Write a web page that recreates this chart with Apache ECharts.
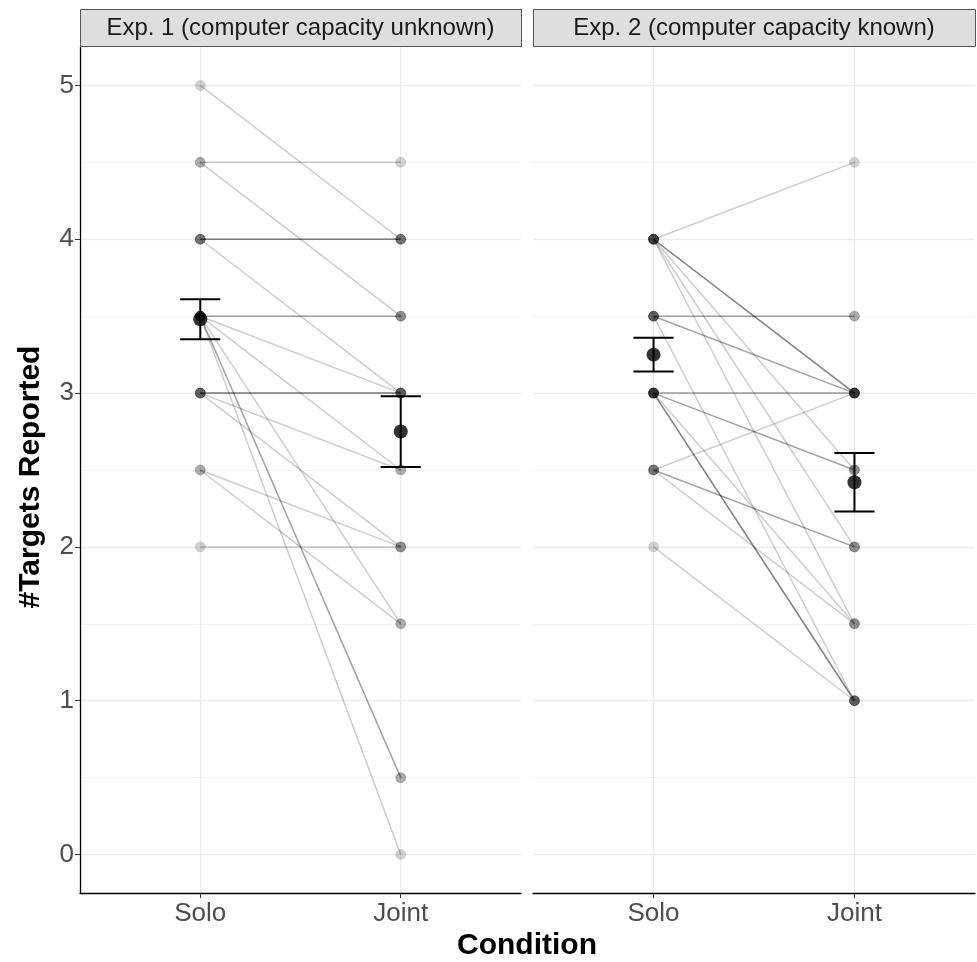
<!DOCTYPE html>
<html>
<head>
<meta charset="utf-8">
<script src="https://cdn.jsdelivr.net/npm/echarts@6/dist/echarts.min.js"></script>
<style>html,body{margin:0;padding:0;background:#fff}#c{width:977px;height:962px}</style>
</head>
<body>
<div id="c"></div>
<script>
// ---- data ----
const conditions = ['Solo', 'Joint'];
const panelTitles = ['Exp. 1 (computer capacity unknown)', 'Exp. 2 (computer capacity known)'];
const yTicks = [0, 1, 2, 3, 4, 5];
const yMinor = [0.5, 1.5, 2.5, 3.5, 4.5];

// individual participants (Solo value, Joint value)
const exp1Solo  = [5, 4.5, 4.5, 4, 4, 4, 4, 3.5, 3.5, 3.5, 3.5, 3.5, 3.5, 3.5, 3.5, 3, 3, 3, 3, 3, 2.5, 2.5, 2];
const exp1Joint = [4, 4.5, 3.5, 4, 4, 4, 3, 3.5, 3.5, 3, 2.5, 1.5, 0.5, 0.5, 0, 3, 3, 3, 2.5, 2, 2, 1.5, 2];
const exp2Solo  = [4, 4, 4, 4, 4, 4, 4, 3.5, 3.5, 3.5, 3.5, 3.5, 3, 3, 3, 3, 3, 3, 3, 3, 2.5, 2.5, 2.5, 2.5, 2];
const exp2Joint = [4.5, 3, 3, 3, 2.5, 2, 1.5, 3.5, 3.5, 3, 3, 1, 3, 3, 2.5, 2.5, 1, 1, 1, 1.5, 3, 2, 2, 1.5, 1];

// means and error bars [Solo, Joint]
const exp1Mean = [3.48, 2.75];
const exp1Lo   = [3.35, 2.52];
const exp1Hi   = [3.61, 2.98];
const exp2Mean = [3.25, 2.42];
const exp2Lo   = [3.14, 2.23];
const exp2Hi   = [3.36, 2.61];

// ---- chart ----
const FONT = '"Liberation Sans", Arial, Helvetica, sans-serif';
const panels = [
  {solo: exp1Solo, joint: exp1Joint, mean: exp1Mean, lo: exp1Lo, hi: exp1Hi},
  {solo: exp2Solo, joint: exp2Joint, mean: exp2Mean, lo: exp2Lo, hi: exp2Hi}
];
const grids = [
  {left: 80, top: 47, width: 441, height: 846},
  {left: 533, top: 47, width: 442, height: 846}
];

const xAxes = grids.map((g, i) => ({
  type: 'value', gridIndex: i, min: 0.4, max: 2.6, z: 6,
  axisLine: {show: true, onZero: false, lineStyle: {color: '#000', width: 1.3}},
  axisTick: {show: true, customValues: [1, 2], length: 5, lineStyle: {color: '#333', width: 1}},
  axisLabel: {show: true, customValues: [1, 2], formatter: v => conditions[Math.round(v) - 1],
              fontFamily: FONT, fontSize: 26, color: '#4d4d4d', margin: 8},
  splitLine: {show: false}
}));
const yAxes = grids.map((g, i) => ({
  type: 'value', gridIndex: i, min: -0.25, max: 5.25, z: 6,
  axisLine: {show: i === 0, lineStyle: {color: '#000', width: 1.3}},
  axisTick: {show: i === 0, customValues: yTicks, length: 5, lineStyle: {color: '#333', width: 1}},
  axisLabel: {show: i === 0, customValues: yTicks, fontFamily: FONT, fontSize: 26, color: '#4d4d4d', margin: 6},
  splitLine: {show: false}
}));

const series = [];
panels.forEach((p, i) => {
  // gridlines
  const gl = [];
  yMinor.forEach(v => gl.push({yAxis: v, lineStyle: {color: '#f3f3f3', width: 1, type: 'solid'}}));
  yTicks.forEach(v => gl.push({yAxis: v, lineStyle: {color: '#ebebeb', width: 1.3, type: 'solid'}}));
  [1, 2].forEach(v => gl.push({xAxis: v, lineStyle: {color: '#ebebeb', width: 1.3, type: 'solid'}}));
  series.push({
    type: 'line', xAxisIndex: i, yAxisIndex: i, data: [], z: 0, silent: true,
    markLine: {z: 0, silent: true, symbol: ['none', 'none'], label: {show: false}, animation: false, data: gl}
  });
  // participant lines
  series.push({
    type: 'custom', xAxisIndex: i, yAxisIndex: i, z: 2, silent: true,
    data: p.solo.map((s, k) => [s, p.joint[k]]),
    encode: {x: -1, y: [0, 1]},
    renderItem: (params, api) => {
      const a = api.coord([1, api.value(0)]);
      const b = api.coord([2, api.value(1)]);
      return {type: 'line', shape: {x1: a[0], y1: a[1], x2: b[0], y2: b[1]},
              style: {stroke: 'rgba(0,0,0,0.2)', lineWidth: 1.5}};
    }
  });
  // participant points
  series.push({
    type: 'scatter', xAxisIndex: i, yAxisIndex: i, z: 3, silent: true, symbolSize: 10,
    itemStyle: {color: 'rgba(0,0,0,0.22)', borderColor: 'rgba(0,0,0,0.12)', borderWidth: 1},
    data: p.solo.map(s => [1, s]).concat(p.joint.map(j => [2, j]))
  });
  // error bars
  series.push({
    type: 'custom', xAxisIndex: i, yAxisIndex: i, z: 4, silent: true,
    data: [[1, p.lo[0], p.hi[0]], [2, p.lo[1], p.hi[1]]],
    encode: {x: 0, y: [1, 2]},
    renderItem: (params, api) => {
      const x = api.value(0);
      const lo = api.coord([x, api.value(1)]);
      const hi = api.coord([x, api.value(2)]);
      const l = api.coord([x - 0.1, api.value(1)]);
      const r = api.coord([x + 0.1, api.value(1)]);
      const st = {stroke: '#000', lineWidth: 2};
      return {type: 'group', children: [
        {type: 'line', shape: {x1: lo[0], y1: lo[1], x2: hi[0], y2: hi[1]}, style: st},
        {type: 'line', shape: {x1: l[0], y1: lo[1], x2: r[0], y2: lo[1]}, style: st},
        {type: 'line', shape: {x1: l[0], y1: hi[1], x2: r[0], y2: hi[1]}, style: st}
      ]};
    }
  });
  // means
  series.push({
    type: 'scatter', xAxisIndex: i, yAxisIndex: i, z: 5, silent: true, symbolSize: 14,
    itemStyle: {color: '#000'},
    data: [[1, p.mean[0]], [2, p.mean[1]]]
  });
});

const graphic = [];
grids.forEach((g, i) => {
  graphic.push({type: 'rect', left: g.left, top: 9, shape: {width: g.width, height: 37},
                style: {fill: '#dedede', stroke: '#555', lineWidth: 1}, z: 10});
  graphic.push({type: 'text', x: g.left + g.width / 2, y: 28, z: 11,
                style: {text: panelTitles[i], fontFamily: FONT, fontSize: 24, fill: '#1a1a1a',
                        textAlign: 'center', textVerticalAlign: 'middle'}});
});
graphic.push({type: 'text', x: 527, y: 946, z: 11,
              style: {text: 'Condition', fontFamily: FONT, fontSize: 30, fontWeight: 'bold', fill: '#000',
                      textAlign: 'center', textVerticalAlign: 'middle'}});
graphic.push({type: 'text', x: 31, y: 477, rotation: Math.PI / 2, z: 11,
              style: {text: '#Targets Reported', fontFamily: FONT, fontSize: 30, fontWeight: 'bold', fill: '#000',
                      textAlign: 'center', textVerticalAlign: 'middle'}});

const chart = echarts.init(document.getElementById('c'), null, {renderer: 'canvas'});
chart.setOption({
  animation: false,
  backgroundColor: '#fff',
  grid: grids,
  xAxis: xAxes,
  yAxis: yAxes,
  series: series,
  graphic: graphic
});
</script>
</body>
</html>
